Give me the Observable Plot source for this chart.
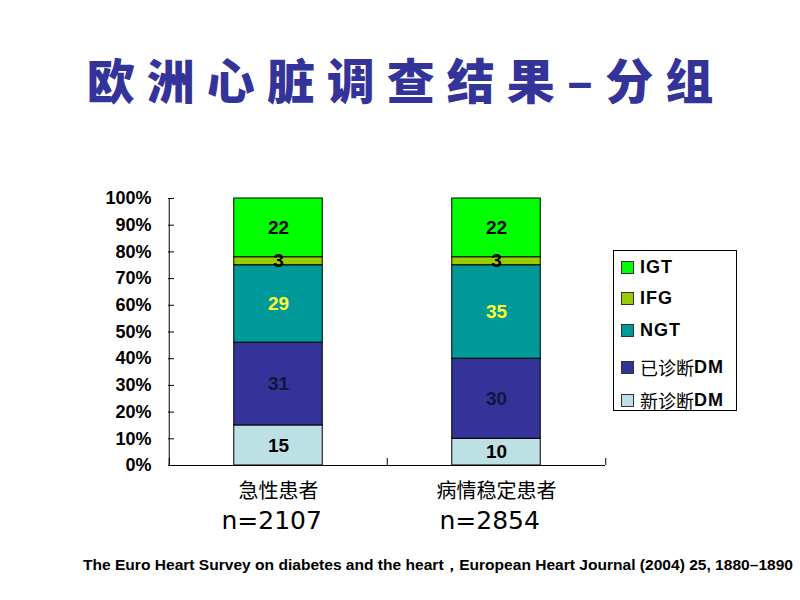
<!DOCTYPE html>
<html>
<head>
<meta charset="utf-8">
<script src="https://cdn.jsdelivr.net/npm/d3@7"></script>
<script src="https://cdn.jsdelivr.net/npm/@observablehq/plot@0.6"></script>
<style>
  html, body { margin: 0; padding: 0; background: #fff; }
  #root { position: relative; width: 800px; height: 600px; overflow: hidden; }
  #title { position: absolute; left: 0; top: 53px; width: 800px; text-align: center;
    font-family: "Noto Sans CJK SC", sans-serif; font-weight: 900; font-size: 48px; line-height: 50px;
    color: #333399; letter-spacing: 12px; padding-left: 12px; box-sizing: border-box; }
  #chart { position: absolute; left: 0; top: 0; }
  #legend { position: absolute; left: 613px; top: 250px; width: 124px; height: 161px;
    border: 1px solid #000; box-sizing: border-box; background: #fff; }
  .item { position: absolute; left: 7px; height: 22px; display: flex; align-items: center;
    font-family: "Liberation Sans", Arial, sans-serif; font-size: 18px; font-weight: bold; color: #000; }
  .sw { width: 11px; height: 11px; border: 1px solid #333; margin-right: 6px; flex: none; }
  .zh { font-family: "Noto Sans CJK SC", sans-serif; font-weight: normal; font-size: 18px; }
  #caption { position: absolute; left: 0; top: 548px; }
</style>
</head>
<body>
<div id="root">
  <div id="title">欧洲心脏调查结果–分组</div>
  <div id="chart"></div>
  <div id="legend"></div>
  <svg id="caption" width="800" height="30"></svg>
</div>
<script>
const groups = ["急性患者", "病情稳定患者"];
const nLabels = ["n=2107", "n=2854"];
const categories = ["新诊断DM", "已诊断DM", "NGT", "IFG", "IGT"]; // bottom to top
const acuteValues = [15, 31, 29, 3, 22];
const stableValues = [10, 30, 35, 3, 22];
const yTicks = [0, 10, 20, 30, 40, 50, 60, 70, 80, 90, 100];
const colors = ["#bde0e5", "#333399", "#009999", "#99cc00", "#00ff00"];
const labelColors = ["#000000", "#14143c", "#ffff33", "#000000", "#000000"];
const legendOrder = ["IGT", "IFG", "NGT", "已诊断DM", "新诊断DM"];
const legendRowY = [16, 47, 79, 116, 149];
const captionText = "The Euro Heart Survey on diabetes and the heart，European Heart Journal (2004) 25, 1880–1890";

const data = groups.flatMap((g, gi) => categories.map((c, ci) => ({
  group: g, cat: c, value: (gi === 0 ? acuteValues : stableValues)[ci]
})));

const W = 800, H = 600, mL = 168, mR = 195, mT = 198, mB = 135;
const frameW = W - mL - mR, frameH = H - mT - mB;
const step = frameW / groups.length;
const barW = 89;
const inset = (step - barW) / 2;
const colorOf = c => colors[categories.indexOf(c)];
const labelColorOf = c => labelColors[categories.indexOf(c)];

const chart = Plot.plot({
  width: W, height: H,
  marginLeft: mL, marginRight: mR, marginTop: mT, marginBottom: mB,
  x: {domain: groups, padding: 0, axis: null},
  y: {domain: [0, 100]},
  color: {type: "identity"},
  style: {fontFamily: "'Liberation Sans', Arial, sans-serif", background: "transparent", overflow: "visible", color: "#000"},
  marks: [
    Plot.barY(data, {x: "group", y: "value", z: "cat", fill: d => colorOf(d.cat),
      stroke: "#000", strokeWidth: 1, insetLeft: inset, insetRight: inset}),
    Plot.text(data, Plot.stackY({x: "group", y: "value", z: "cat", text: d => String(d.value),
      fill: d => labelColorOf(d.cat), fontSize: 19, fontWeight: "bold"})),
    Plot.ruleY([0], {stroke: "#000"}),
    Plot.ruleY(yTicks, {stroke: "#000", insetRight: frameW - 6}),
    Plot.ruleX([groups[0]], {dx: -step / 2, stroke: "#000"}),
    Plot.ruleX(groups, {dx: -step / 2, stroke: "#000", insetTop: frameH - 7}),
    Plot.ruleX([groups[groups.length - 1]], {dx: step / 2, stroke: "#000", insetTop: frameH - 7}),
    Plot.axisY(yTicks, {tickFormat: d => d + "%", tickSize: 0, tickPadding: 17, fontSize: 18,
      fontWeight: "bold", label: null}),
    Plot.text(groups, {x: d => d, text: d => d, frameAnchor: "bottom", dy: 32, fontSize: 20,
      fontFamily: "'Noto Sans CJK SC', sans-serif"}),
    Plot.text(groups, {x: d => d, text: (d, i) => nLabels[i], frameAnchor: "bottom", dy: 63,
      textAnchor: "start", dx: -57, fontSize: 25, fontFamily: "'DejaVu Sans', sans-serif"})
  ]
});
document.getElementById("chart").appendChild(chart);

const legend = document.getElementById("legend");
legendOrder.forEach((name, i) => {
  const item = document.createElement("div");
  item.className = "item";
  item.style.top = (legendRowY[i] - 11) + "px";
  const sw = document.createElement("span");
  sw.className = "sw";
  sw.style.background = colorOf(name);
  item.appendChild(sw);
  const m = name.match(/^([^A-Za-z]*)(.*)$/);
  if (m[1]) {
    const zh = document.createElement("span");
    zh.className = "zh";
    zh.textContent = m[1];
    item.appendChild(zh);
  }
  const en = document.createElement("span");
  en.textContent = m[2];
  en.style.letterSpacing = "1px";
  item.appendChild(en);
  legend.appendChild(item);
});

d3.select("#caption").append("text")
  .attr("x", 83).attr("y", 22)
  .attr("textLength", 710).attr("lengthAdjust", "spacingAndGlyphs")
  .attr("font-family", "'Liberation Sans Narrow', 'Liberation Sans', Arial, sans-serif")
  .attr("font-weight", "bold").attr("font-size", 15)
  .text(captionText);
</script>
</body>
</html>
